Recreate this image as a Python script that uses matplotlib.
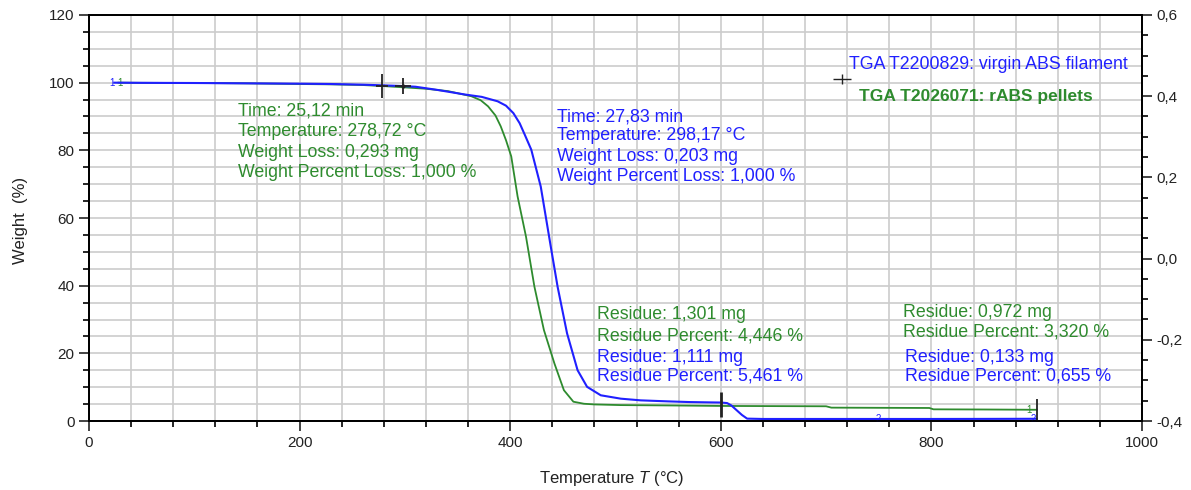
import matplotlib
matplotlib.use("Agg")
import matplotlib.pyplot as plt
from matplotlib.ticker import MultipleLocator, FuncFormatter
import numpy as np

plt.rcParams['font.family'] = ['Liberation Sans', 'DejaVu Sans']
plt.rcParams['mathtext.fontset'] = 'custom'
plt.rcParams['mathtext.rm'] = 'Liberation Sans'
plt.rcParams['mathtext.it'] = 'Liberation Sans:italic'

# virgin ABS filament (blue)
blue_T = [24, 50, 100, 150, 200, 230, 260, 280, 298, 310, 330, 357, 373, 388, 396,
          403, 409, 414, 420, 429, 438.5, 445, 454, 464, 473, 486, 505, 524, 550, 570,
          590, 600, 606, 610, 615, 620, 625, 640, 700, 750, 800, 850, 900]
blue_W = [100, 99.95, 99.9, 99.8, 99.7, 99.6, 99.4, 99.2, 99.0, 98.8, 97.9, 96.5,
          95.8, 94.5, 93.2, 91.0, 88.0, 84.5, 80.2, 69.3, 51.6, 39.7, 25.9, 15.0,
          10.1, 7.6, 6.6, 6.1, 5.8, 5.6, 5.5, 5.46, 5.3, 4.6, 3.2, 1.8, 0.7, 0.6,
          0.6, 0.6, 0.6, 0.62, 0.655]

# rABS pellets (green)
green_T = [28, 50, 100, 150, 200, 230, 260, 279, 300, 320, 341, 363, 372, 379, 386,
           391, 396, 401, 407, 415, 423, 432, 442, 451, 460, 470, 480, 505, 550, 600,
           650, 700, 705, 750, 798, 802, 850, 900]
green_W = [100, 99.95, 99.9, 99.8, 99.6, 99.5, 99.3, 99.0, 98.6, 98.2, 97.5, 96.0,
           94.8, 93.0, 90.3, 87.1, 83.0, 78.2, 66.4, 54.5, 39.7, 26.9, 17.0, 9.1, 5.7,
           5.1, 4.9, 4.7, 4.6, 4.45, 4.4, 4.35, 3.95, 3.9, 3.85, 3.45, 3.4, 3.32]

green_onset = ["Time: 25,12 min", "Temperature: 278,72 °C",
               "Weight Loss: 0,293 mg", "Weight Percent Loss: 1,000 %"]
blue_onset = ["Time: 27,83 min", "Temperature: 298,17 °C",
              "Weight Loss: 0,203 mg", "Weight Percent Loss: 1,000 %"]
green_res600 = ["Residue: 1,301 mg", "Residue Percent: 4,446 %"]
blue_res600 = ["Residue: 1,111 mg", "Residue Percent: 5,461 %"]
green_res900 = ["Residue: 0,972 mg", "Residue Percent: 3,320 %"]
blue_res900 = ["Residue: 0,133 mg", "Residue Percent: 0,655 %"]
onset_T = [278.72, 298.17]
onset_W = [99.0, 99.0]

BLUE = '#2020ff'
GREEN = '#2e8b2e'
FS = 12.8

fig = plt.figure(figsize=(11.91, 4.90), dpi=100)
ax = fig.add_axes([89/1191, 69/490, 1053/1191, 406/490])

ax.set_xlim(0, 1000)
ax.set_ylim(0, 120)
ax.xaxis.set_major_locator(MultipleLocator(200))
ax.xaxis.set_minor_locator(MultipleLocator(40))
ax.yaxis.set_major_locator(MultipleLocator(20))
ax.yaxis.set_minor_locator(MultipleLocator(5))
ax.grid(which='both', color='#cccccc', lw=1.2)
ax.set_axisbelow(True)
ax.tick_params(which='major', length=7, width=1.2, labelsize=11, colors='#222222')
ax.tick_params(which='minor', length=4, width=1.2)
for s in ax.spines.values():
    s.set_linewidth(1.3)

ax.plot(green_T, green_W, color=GREEN, lw=1.3, zorder=3)
ax.plot(blue_T, blue_W, color=BLUE, lw=1.5, zorder=4)

# onset markers
ax.plot(onset_T[0], onset_W[0], marker='|', ms=17, mew=1.3, color='#222222', zorder=5)
ax.plot(onset_T[0], onset_W[0], marker='_', ms=8, mew=1.3, color='#222222', zorder=5)
ax.plot(onset_T[1], onset_W[1], marker='+', ms=12, mew=1.3, color='#222222', zorder=5)
ax.plot(onset_T[1], onset_W[1], marker='.', ms=4, color='#222222', zorder=5)
# residue markers
ax.plot(600, 4.9, marker='|', ms=18, mew=2, color='#222222', zorder=5)
ax.plot(900, 3.0, marker='|', ms=17, mew=1.3, color='#222222', zorder=5)
# small curve labels
ax.text(22, 100, "1", color=BLUE, fontsize=7, va='center', ha='center')
ax.text(29, 100, "1", color=GREEN, fontsize=7, va='center', ha='center')
ax.text(750, 0.6, "2", color=BLUE, fontsize=7, va='center', ha='center')
ax.text(897, 0.7, "2", color=BLUE, fontsize=7, va='center', ha='center')
ax.text(893, 3.3, "1", color=GREEN, fontsize=7, va='center', ha='center')

def block(x, ys, lines, color):
    for y, s in zip(ys, lines):
        ax.text(x, y, s, color=color, fontsize=FS, va='center', ha='left')

block(141.5, [91.6, 85.5, 79.4, 73.5], green_onset, GREEN)
block(444.4, [90.0, 84.3, 78.1, 72.2], blue_onset, BLUE)
block(482.4, [31.4, 25.2], green_res600, GREEN)
block(482.4, [18.9, 13.2], blue_res600, BLUE)
block(773, [32.0, 26.4], green_res900, GREEN)
block(774.5, [18.9, 13.2], blue_res900, BLUE)

# legend
ax.plot(715, 101.2, marker='|', ms=7, mew=1.0, color='#222222')
ax.plot(715, 101.2, marker='_', ms=13, mew=1.0, color='#222222')
ax.text(722, 105.4, "TGA T2200829: virgin ABS filament", color=BLUE, fontsize=FS,
        va='center', ha='left')
ax.text(731, 96.0, "TGA T2026071: rABS pellets", color=GREEN, fontsize=FS - 0.3,
        fontweight='bold', va='center', ha='left')

ax.set_xlabel("Temperature $\\mathit{T}$ (°C)", fontsize=12, color='#222222')
ax.xaxis.set_label_coords(0.4967, -0.118)
ax.set_ylabel("Weight  (%)", fontsize=12, color='#222222')
ax.yaxis.set_label_coords(-0.058, 0.495)

ax2 = ax.twinx()
ax2.set_ylim(-0.4, 0.6)
ax2.yaxis.set_major_locator(MultipleLocator(0.2))
ax2.yaxis.set_minor_locator(MultipleLocator(0.05))
ax2.yaxis.set_major_formatter(FuncFormatter(lambda v, p: ("%.1f" % v).replace('.', ',').replace('-0,0', '0,0')))
ax2.tick_params(which='major', length=7, width=1.2, labelsize=11, colors='#222222')
ax2.tick_params(which='minor', length=4, width=1.2)
for s in ax2.spines.values():
    s.set_linewidth(1.3)

fig.savefig("out.png", dpi=100)
